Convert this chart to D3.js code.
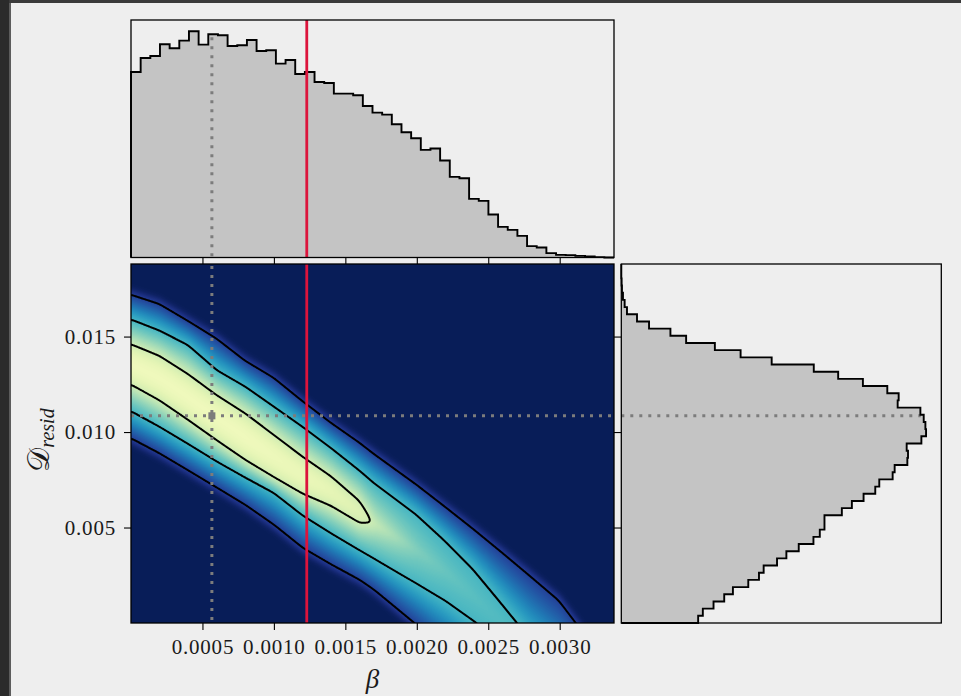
<!DOCTYPE html>
<html>
<head>
<meta charset="utf-8">
<script src="https://cdnjs.cloudflare.com/ajax/libs/d3/7.8.5/d3.min.js"></script>
<style>
  html, body { margin: 0; padding: 0; background: #eeeeee; }
  svg { display: block; }
</style>
</head>
<body>
<div id="chart"></div>
<script>
// ---- data ----
var betaRange = [0, 0.00338];
var dRange = [0, 0.0188];
var betaTicks = [0.0005, 0.0010, 0.0015, 0.0020, 0.0025, 0.0030];
var dTicks = [0.005, 0.010, 0.015];
var betaTruth = 0.000566;
var dTruth = 0.01085;
var betaMarked = 0.00123;

// marginal histogram of beta (50 bins over betaRange)
var betaCounts = [557, 599, 605, 640, 628, 651, 679, 639, 670, 667,
                  635, 637, 653, 620, 622, 582, 593, 551, 557, 527,
                  524, 492, 492, 487, 455, 435, 429, 400, 376, 358,
                  323, 327, 291, 242, 238, 176, 170, 129, 92, 83,
                  65, 34, 30, 13, 8, 7, 5, 3, 1, 0];

// marginal histogram of D_resid (50 bins over dRange, from low to high)
var dCounts = [230, 244, 276, 308, 334, 380, 412, 426, 466, 494,
               531, 575, 594, 608, 608, 660, 690, 725, 760, 772,
               812, 818, 856, 858, 854, 898, 912, 910, 905, 895,
               827, 830, 796, 723, 649, 576, 450, 357, 280, 194,
               147, 83, 47, 17, 10, 5, 2, 1, 0, 0];

// 2d density: contour boundaries (D values) at a few beta stations
var ridgeBeta   = [0, 0.0002, 0.0004, 0.0006, 0.0008, 0.0010, 0.0012, 0.0014, 0.0016,
                   0.0017, 0.0020, 0.0022, 0.0024, 0.0026, 0.0028, 0.0030, 0.0032, 0.0034];
var outerUpper  = [0.01721, 0.01672, 0.01583, 0.01492, 0.01375, 0.01286, 0.01164, 0.01050, 0.00946,
                   0.00888, 0.00726, 0.00611, 0.00494, 0.00373, 0.00249, 0.00122, -0.00077, -0.0025];
var secondUpper = [0.01591, 0.01532, 0.01457, 0.01324, 0.01239, 0.01134, 0.01030, 0.00918, 0.00799,
                   0.00736, 0.00572, 0.00436, 0.00286, 0.00105, -0.0008, -0.0022, -0.0035, -0.0047];
var innerUpper  = [0.01461, 0.01400, 0.01304, 0.01195, 0.01099, 0.00986, 0.00872, 0.00769, 0.00640,
                   0.00522, 0.0038, 0.0027, 0.0014, 0.0000, -0.0015, -0.0029, -0.0043, -0.0056];
var innerLower  = [0.01248, 0.01164, 0.01061, 0.00954, 0.00850, 0.00759, 0.00675, 0.00612, 0.00522,
                   0.00522, 0.0038, 0.0027, 0.0014, 0.0000, -0.0015, -0.0029, -0.0043, -0.0056];
var secondLower = [0.01108, 0.01026, 0.00937, 0.00846, 0.00763, 0.00684, 0.00565, 0.00469, 0.00380,
                   0.00335, 0.00201, 0.00110, 0.00002, -0.00107, -0.00215, -0.0036, -0.0050, -0.0064];
var outerLower  = [0.00965, 0.00886, 0.00797, 0.00707, 0.00616, 0.00511, 0.00391, 0.00304, 0.00223,
                   0.00171, -0.00016, -0.0015, -0.0029, -0.0043, -0.0057, -0.0071, -0.0085, -0.0099];
var ridgePeak   = [0.9, 0.9, 0.9, 0.9, 0.9, 0.89, 0.88, 0.86, 0.83,
                   0.77, 0.63, 0.58, 0.55, 0.53, 0.52, 0.52, 0.52, 0.52];
var levels = [0.15, 0.5, 0.78];

// ---- layout ----
var W = 961, H = 696;
var main = {left: 131, right: 614, top: 264, bottom: 623};
var topBox = {left: 131, right: 614, top: 20, bottom: 257.5};
var sideBox = {left: 621.3, right: 941.3, top: 264, bottom: 623};
var serif = '"Liberation Serif", "DejaVu Serif", serif';

var svg = d3.select('#chart').append('svg')
    .attr('width', W)
    .attr('height', H);

svg.append('rect').attr('width', W).attr('height', H).attr('fill', '#eeeeee');
svg.append('rect').attr('x', 0).attr('y', 0).attr('width', W).attr('height', 3).attr('fill', '#3a3a3a');
svg.append('rect').attr('x', 0).attr('y', 0).attr('width', 9).attr('height', H).attr('fill', '#2b2b2b');
svg.append('rect').attr('x', 9).attr('y', 3).attr('width', 2).attr('height', H).attr('fill', '#5c5c5c');

var x = d3.scaleLinear().domain(betaRange).range([main.left, main.right]);
var y = d3.scaleLinear().domain(dRange).range([main.bottom, main.top]);
var topY = d3.scaleLinear().domain([0, d3.max(betaCounts) * 1.05]).range([topBox.bottom, topBox.top]);
var sideX = d3.scaleLinear().domain([0, d3.max(dCounts) * 1.05]).range([sideBox.left, sideBox.right]);

function stationScale(arr) {
    return d3.scaleLinear().domain(ridgeBeta).range(arr).clamp(true);
}
var ouS = stationScale(outerUpper), suS = stationScale(secondUpper), iuS = stationScale(innerUpper),
    ilS = stationScale(innerLower), slS = stationScale(secondLower), olS = stationScale(outerLower),
    pkS = stationScale(ridgePeak);

function drawDensity() {
    var L3 = levels[0], L2 = levels[1], L1 = levels[2], fade = 0.0004;
    var pad = 4;
    var gx0 = main.left - pad, gy0 = main.top - pad;
    var gw = Math.ceil(main.right - main.left) + 2 * pad;
    var gh = Math.ceil(main.bottom - main.top) + 2 * pad;
    var grid = new Float64Array(gw * gh);

    for (var i = 0; i < gw; i++) {
        var b = x.invert(gx0 + i + 0.5);
        var ou = ouS(b), su = suS(b), iu = iuS(b), il = ilS(b), sl = slS(b), ol = olS(b), p = pkS(b);
        var edge = (iu - il > 1e-7) ? L1 : p;
        for (var j = 0; j < gh; j++) {
            var dv = y.invert(gy0 + j + 0.5), v;
            if (dv >= ou) v = L3 * Math.max(0, 1 - (dv - ou) / fade);
            else if (dv >= su) v = L3 + (L2 - L3) * (ou - dv) / (ou - su);
            else if (dv >= iu) v = L2 + (edge - L2) * (su - dv) / (su - iu);
            else if (dv > il) v = L1 + (p - L1) * Math.sin(Math.PI * (dv - il) / (iu - il));
            else if (dv >= sl) v = L2 + (edge - L2) * (dv - sl) / (il - sl);
            else if (dv >= ol) v = L3 + (L2 - L3) * (dv - ol) / (sl - ol);
            else v = L3 * Math.max(0, 1 - (ol - dv) / fade);
            grid[j * gw + i] = v;
        }
    }
    if (d3.blur2) d3.blur2({data: grid, width: gw, height: gh}, 2);

    var lut = d3.range(256).map(function(k) { return d3.rgb(d3.interpolateYlGnBu(1 - k / 255)); });
    var canvas = document.createElement('canvas');
    canvas.width = gw;
    canvas.height = gh;
    var ctx = canvas.getContext('2d');
    var img = ctx.createImageData(gw, gh);
    for (var k = 0; k < grid.length; k++) {
        var c = lut[Math.max(0, Math.min(255, Math.round(grid[k] * 255)))];
        img.data[4 * k] = c.r;
        img.data[4 * k + 1] = c.g;
        img.data[4 * k + 2] = c.b;
        img.data[4 * k + 3] = 255;
    }
    ctx.putImageData(img, 0, 0);

    svg.append('clipPath').attr('id', 'clip-main')
        .append('rect')
        .attr('x', main.left).attr('y', main.top)
        .attr('width', main.right - main.left).attr('height', main.bottom - main.top);

    var g = svg.append('g').attr('clip-path', 'url(#clip-main)');
    g.append('image')
        .attr('href', canvas.toDataURL())
        .attr('x', gx0).attr('y', gy0)
        .attr('width', gw).attr('height', gh)
        .attr('preserveAspectRatio', 'none');

    var contours = d3.contours().size([gw, gh]).thresholds(levels)(Array.from(grid));
    g.append('g')
        .attr('transform', 'translate(' + gx0 + ',' + gy0 + ')')
        .selectAll('path')
        .data(contours)
        .enter()
        .append('path')
        .attr('d', d3.geoPath())
        .attr('fill', 'none')
        .attr('stroke', 'black')
        .attr('stroke-width', 2);
}

function stepPoints(counts, range) {
    var n = counts.length, w = (range[1] - range[0]) / n;
    var pts = [[range[0], 0]];
    counts.forEach(function(c, i) {
        pts.push([range[0] + i * w, c]);
        pts.push([range[0] + (i + 1) * w, c]);
    });
    pts.push([range[1], 0]);
    return pts;
}

function binValue(counts, range, v) {
    var w = (range[1] - range[0]) / counts.length;
    return counts[Math.min(counts.length - 1, Math.floor((v - range[0]) / w))];
}

var dotStyle = function(sel) {
    sel.attr('stroke', '#7c7c7c')
        .attr('stroke-width', 3)
        .attr('stroke-dasharray', '3 6');
};

function drawTopHist() {
    var pts = stepPoints(betaCounts, betaRange);
    var line = d3.line().x(function(d) { return x(d[0]); }).y(function(d) { return topY(d[1]); });
    svg.append('path').attr('d', line(pts) + 'Z').attr('fill', '#c4c4c4').attr('stroke', 'none');
    svg.append('line')
        .attr('x1', x(betaTruth)).attr('x2', x(betaTruth))
        .attr('y1', topY(binValue(betaCounts, betaRange, betaTruth)) + 3).attr('y2', topBox.bottom)
        .call(dotStyle);
    svg.append('path').attr('d', line(pts)).attr('fill', 'none')
        .attr('stroke', 'black').attr('stroke-width', 1.9).attr('stroke-linejoin', 'miter');
    svg.append('line')
        .attr('x1', x(betaMarked)).attr('x2', x(betaMarked))
        .attr('y1', topBox.top).attr('y2', topBox.bottom)
        .attr('stroke', '#dc143c').attr('stroke-width', 2.8);
    svg.append('rect')
        .attr('x', topBox.left).attr('y', topBox.top)
        .attr('width', topBox.right - topBox.left).attr('height', topBox.bottom - topBox.top)
        .attr('fill', 'none').attr('stroke', 'black').attr('stroke-width', 1.3);
}

function drawSideHist() {
    var pts = stepPoints(dCounts, dRange);
    var line = d3.line().x(function(d) { return sideX(d[1]); }).y(function(d) { return y(d[0]); });
    svg.append('path').attr('d', line(pts) + 'Z').attr('fill', '#c4c4c4').attr('stroke', 'none');
    svg.append('line')
        .attr('x1', sideBox.left).attr('x2', sideX(binValue(dCounts, dRange, dTruth)) - 3)
        .attr('y1', y(dTruth)).attr('y2', y(dTruth))
        .call(dotStyle);
    svg.append('path').attr('d', line(pts)).attr('fill', 'none')
        .attr('stroke', 'black').attr('stroke-width', 1.9);
    svg.append('rect')
        .attr('x', sideBox.left).attr('y', sideBox.top)
        .attr('width', sideBox.right - sideBox.left).attr('height', sideBox.bottom - sideBox.top)
        .attr('fill', 'none').attr('stroke', 'black').attr('stroke-width', 1.3);
}

function drawMain() {
    drawDensity();
    svg.append('line')
        .attr('x1', x(betaTruth)).attr('x2', x(betaTruth))
        .attr('y1', main.top + 2).attr('y2', main.bottom)
        .call(dotStyle);
    svg.append('line')
        .attr('x1', main.left).attr('x2', main.right)
        .attr('y1', y(dTruth)).attr('y2', y(dTruth))
        .call(dotStyle);
    svg.append('rect')
        .attr('x', x(betaTruth) - 3.5).attr('y', y(dTruth) - 3.5)
        .attr('width', 7).attr('height', 7)
        .attr('fill', '#7c7c7c');
    svg.append('line')
        .attr('x1', x(betaMarked)).attr('x2', x(betaMarked))
        .attr('y1', main.top).attr('y2', main.bottom)
        .attr('stroke', '#dc143c').attr('stroke-width', 2.8);
    svg.append('rect')
        .attr('x', main.left).attr('y', main.top)
        .attr('width', main.right - main.left).attr('height', main.bottom - main.top)
        .attr('fill', 'none').attr('stroke', 'black').attr('stroke-width', 1.3);
}

function styleAxis(g) {
    g.select('.domain').remove();
    g.selectAll('.tick line').attr('stroke', 'black').attr('stroke-width', 1.1);
    g.selectAll('.tick text')
        .attr('fill', '#1a1a1a')
        .style('font-family', serif)
        .style('font-size', '21px')
        .style('letter-spacing', '0.8px');
}

function drawAxes() {
    svg.append('g')
        .attr('transform', 'translate(0,' + main.bottom + ')')
        .call(d3.axisBottom(x).tickValues(betaTicks).tickFormat(d3.format('.4f')).tickSize(7).tickPadding(9))
        .call(styleAxis);
    svg.append('g')
        .attr('transform', 'translate(0,' + main.top + ')')
        .call(d3.axisTop(x).tickValues(betaTicks).tickFormat('').tickSize(6))
        .call(styleAxis);
    svg.append('g')
        .attr('transform', 'translate(' + main.left + ',0)')
        .call(d3.axisLeft(y).tickValues(dTicks).tickFormat(d3.format('.3f')).tickSize(7).tickPadding(8))
        .call(styleAxis);
    svg.append('g')
        .attr('transform', 'translate(' + main.right + ',0)')
        .call(d3.axisRight(y).tickValues(dTicks).tickFormat('').tickSize(7))
        .call(styleAxis);

    svg.append('text')
        .attr('x', (main.left + main.right) / 2)
        .attr('y', 688)
        .attr('text-anchor', 'middle')
        .style('font-family', serif)
        .style('font-style', 'italic')
        .style('font-size', '27px')
        .attr('fill', '#1a1a1a')
        .text('β');

    var ylab = svg.append('text')
        .attr('transform', 'translate(49,440) rotate(-90)')
        .attr('text-anchor', 'middle')
        .style('font-family', serif)
        .attr('fill', '#1a1a1a');
    ylab.append('tspan')
        .style('font-size', '30px')
        .text('𝒟');
    ylab.append('tspan')
        .attr('dy', 5)
        .style('font-size', '20px')
        .style('font-style', 'italic')
        .text('resid');
}

drawTopHist();
drawMain();
drawSideHist();
drawAxes();
</script>
</body>
</html>
